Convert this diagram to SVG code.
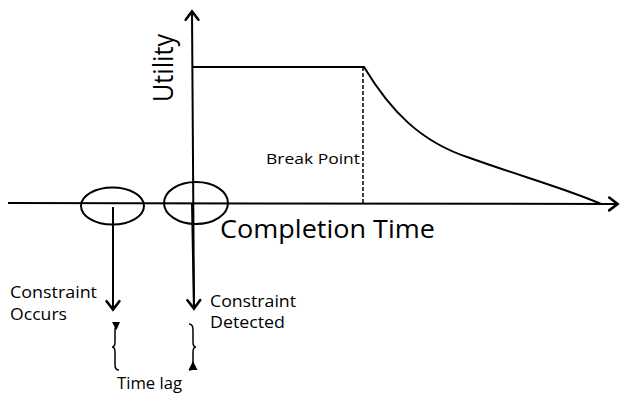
<svg xmlns="http://www.w3.org/2000/svg" width="621" height="395" viewBox="0 0 621 395">
<style>
.ln{stroke:#000;stroke-width:2;fill:none}
.thin{stroke:#000;stroke-width:1.5;fill:none}
.t{font-family:"Open Sans","Noto Sans",sans-serif;fill:#000}
</style>
<defs>
<marker id="arr" viewBox="0 0 20 20" refX="18" refY="10" markerWidth="16" markerHeight="16" markerUnits="userSpaceOnUse" orient="auto">
<path d="M7,2 L17.5,10 L7,18" fill="none" stroke="#000" stroke-width="3.2" stroke-linecap="round" stroke-linejoin="miter"/>
</marker>
</defs>
<rect width="621" height="395" fill="#fff"/>
<g id="connectors">
<line id="x-axis" x1="8" y1="203" x2="618" y2="204" class="ln" marker-end="url(#arr)"/>
<line id="y-axis" x1="194" y1="308" x2="192" y2="11" class="ln" marker-end="url(#arr)"/>
<line id="detected-arrow" x1="192" y1="204" x2="194" y2="309" class="ln" marker-end="url(#arr)"/>
<line id="occurs-arrow" x1="113" y1="207" x2="113" y2="310" class="ln" marker-end="url(#arr)"/>
</g>
<g id="utility-curve">
<path d="M192,67 L364,67 C390,110 420,142 470,158 C520,176 570,190 601,204" class="ln"/>
<line x1="363" y1="67" x2="363" y2="203" stroke="#000" stroke-width="1.5" stroke-dasharray="4,2"/>
</g>
<g id="ellipse-occurs"><ellipse cx="112.5" cy="206" rx="31.5" ry="18.5" class="ln"/></g>
<g id="ellipse-detected"><ellipse cx="196" cy="203" rx="32" ry="21" class="ln"/></g>
<g id="brace-left">
<path d="M119,324 Q115,324 115,330 L115,342 Q115,347 112,347 Q115,347 115,352 L115,365 Q115,370 119,370" class="thin"/>
<path d="M112,322 L120,322 L116.5,330 Z" fill="#000"/>
</g>
<g id="brace-right">
<path d="M189,324 Q193,324 193,330 L193,342 Q193,347 196,347 Q193,347 193,352 L193,365 Q193,370 189,370" class="thin"/>
<path d="M188.5,370 L197.5,370 L193,361 Z" fill="#000"/>
</g>
<g id="labels">
<text class="t" font-size="27" transform="translate(173,102) rotate(-90)" textLength="68" lengthAdjust="spacingAndGlyphs">Utility</text>
<text class="t" font-size="26" x="220" y="238" textLength="215" lengthAdjust="spacingAndGlyphs">Completion Time</text>
<text class="t" font-size="15" x="266" y="164" textLength="94" lengthAdjust="spacingAndGlyphs">Break Point</text>
<text class="t" font-size="16" x="10" y="298" textLength="87" lengthAdjust="spacingAndGlyphs">Constraint</text>
<text class="t" font-size="16" x="10" y="320" textLength="57" lengthAdjust="spacingAndGlyphs">Occurs</text>
<text class="t" font-size="16" x="210" y="307" textLength="86" lengthAdjust="spacingAndGlyphs">Constraint</text>
<text class="t" font-size="16" x="210" y="328" textLength="75" lengthAdjust="spacingAndGlyphs">Detected</text>
<text class="t" font-size="17" x="117" y="389" textLength="65" lengthAdjust="spacingAndGlyphs">Time lag</text>
</g>
</svg>
